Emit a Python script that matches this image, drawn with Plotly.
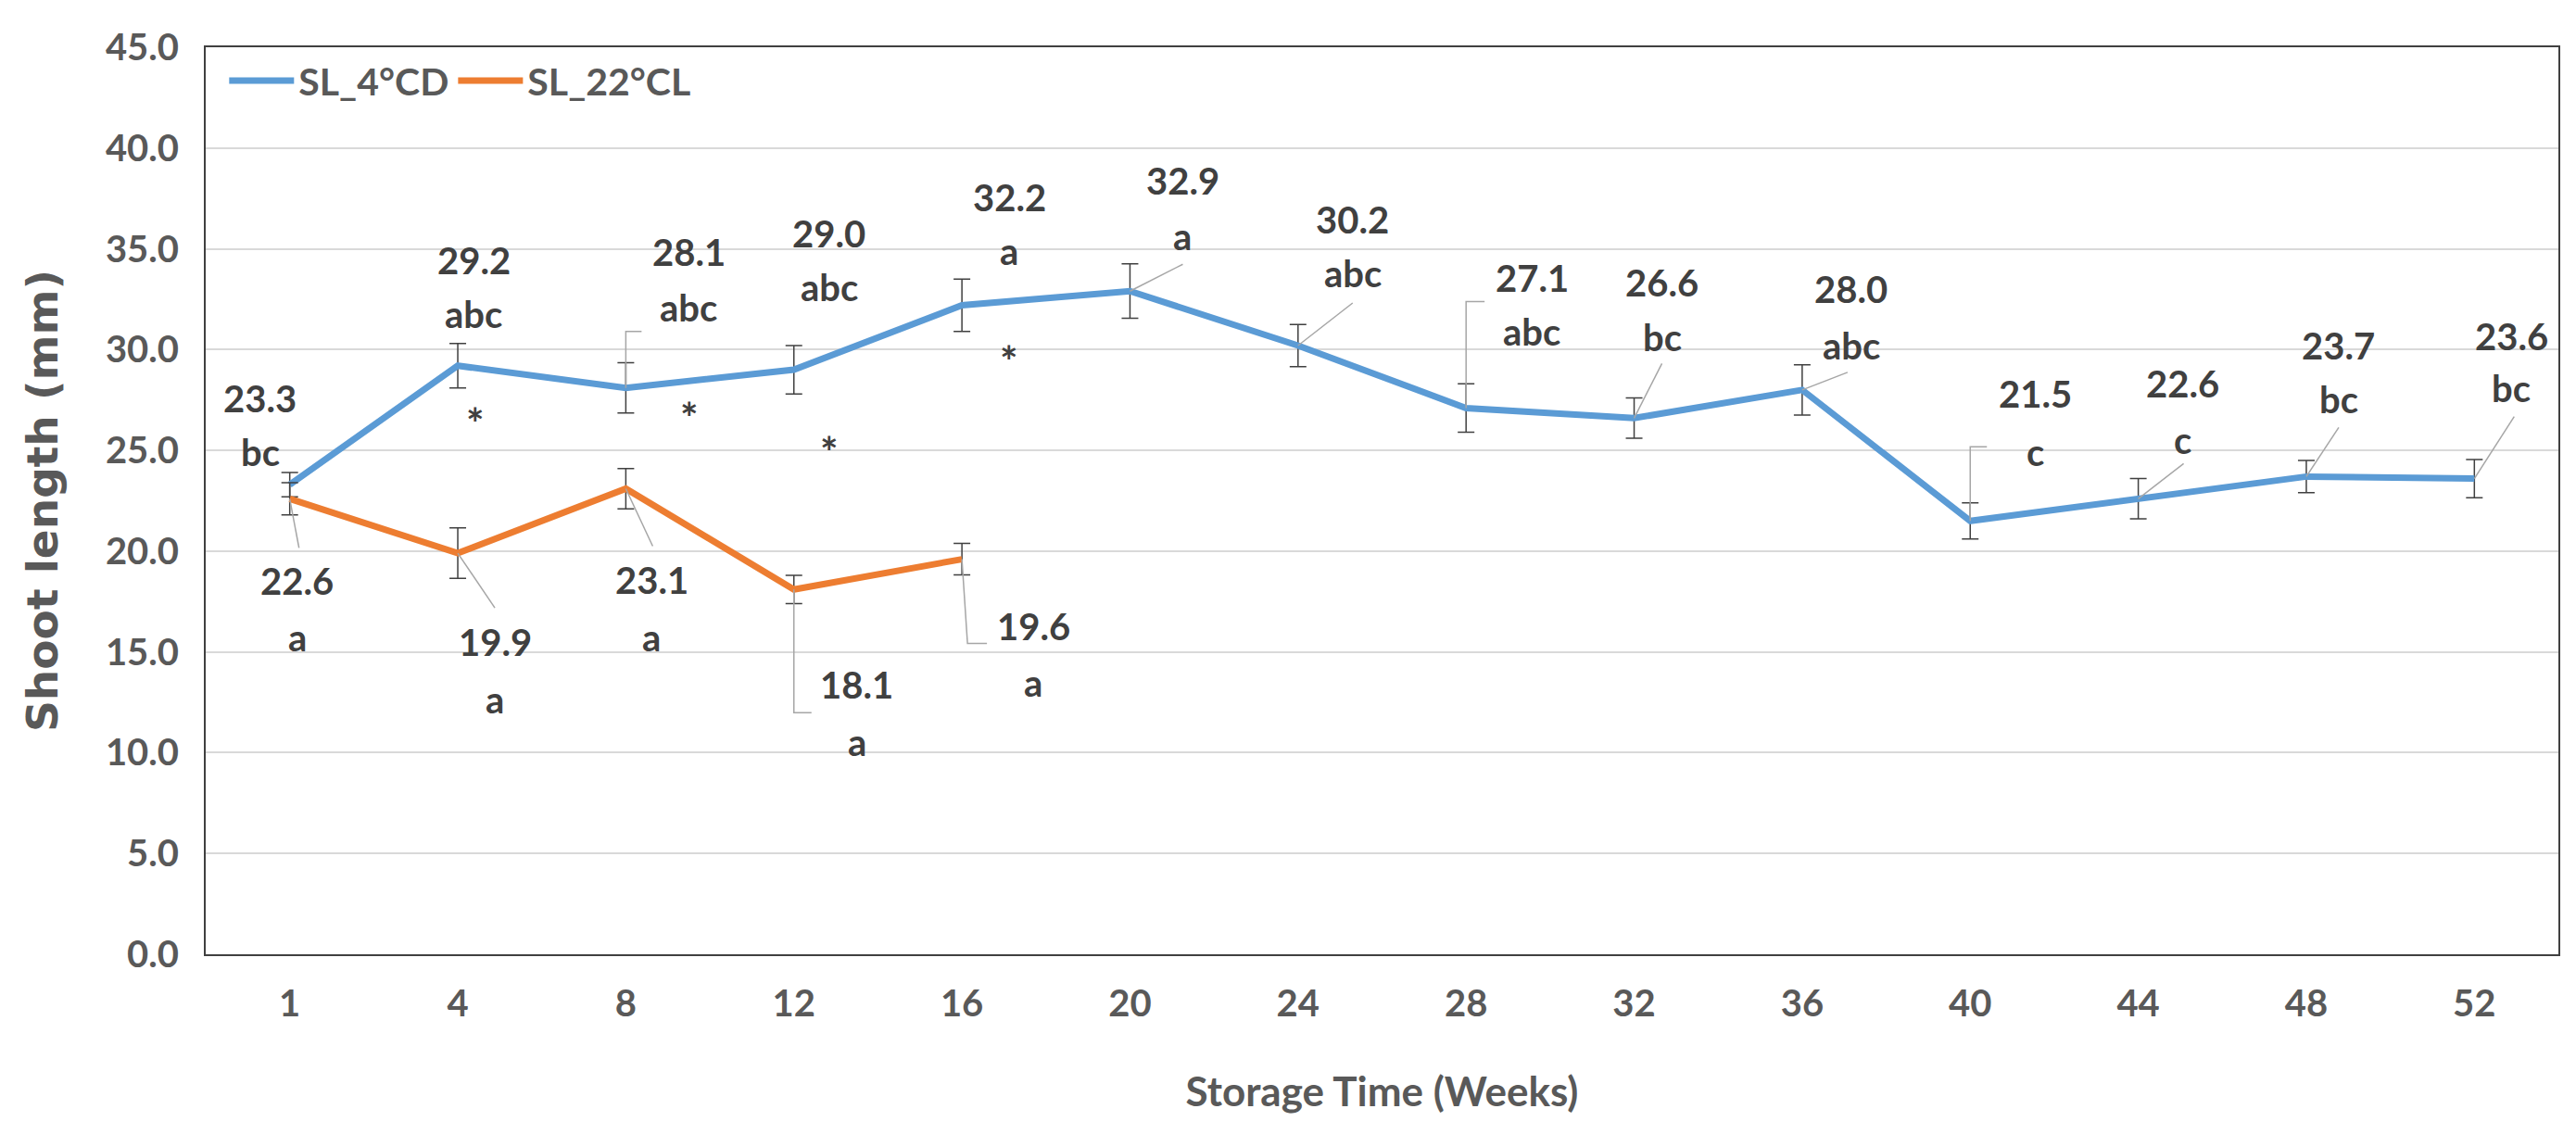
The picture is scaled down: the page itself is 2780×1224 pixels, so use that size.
import plotly.graph_objects as go

# ---------------- data ----------------
weeks = ["1", "4", "8", "12", "16", "20", "24", "28", "32", "36", "40", "44", "48", "52"]
sl_4cd = [23.3, 29.2, 28.1, 29.0, 32.2, 32.9, 30.2, 27.1, 26.6, 28.0, 21.5, 22.6, 23.7, 23.6]
sl_4cd_err = [0.6, 1.1, 1.25, 1.2, 1.3, 1.35, 1.05, 1.2, 1.0, 1.25, 0.9, 1.0, 0.8, 0.95]
sl_4cd_letters = ["bc", "abc", "abc", "abc", "a", "a", "abc", "abc", "bc", "abc", "c", "c", "bc", "bc"]

weeks_22 = ["1", "4", "8", "12", "16"]
sl_22cl = [22.6, 19.9, 23.1, 18.1, 19.6]
sl_22cl_err = [0.8, 1.25, 1.0, 0.7, 0.78]
sl_22cl_letters = ["a", "a", "a", "a", "a"]

sig_weeks = ["4", "8", "12", "16"]
sig_marks = ["*", "*", "*", "*"]

# ---------------- label placement (pixel offsets, up = positive) ----------------
blue_lab_off = [(-32, 93, 35), (17, 114, 56), (68, 147, 87), (38, 147, 89), (51, 116, 58),
                (57, 119, 59), (59, 136, 78), (71, 140, 82), (30, 146, 87), (53, 109, 48),
                (70, 137, 74), (48, 124, 63), (35, 141, 83), (40, 154, 98)]
orange_lab_off = [(8, -89, -150), (40, -96, -158), (28, -99, -161), (68, -103, -165), (77, -72, -133)]
blue_leaders = [None, None, [(0, 0), (0, 61), (17, 61)], None, None,
                [(0, 0), (57, 29)], [(0, 0), (59, 46)], [(0, 0), (0, 115), (20, 115)],
                [(0, 0), (30, 59)], [(0, 0), (49, 19)], [(0, 0), (0, 80), (18, 80)],
                [(0, 0), (49, 38)], [(0, 0), (35, 53)], [(0, 0), (43, 67)]]
orange_leaders = [[(0, 0), (10, -53)], [(0, 0), (40, -59)], [(0, 0), (29, -62)],
                  [(0, 0), (0, -133), (19, -133)], [(0, 0), (6, -91), (27, -91)]]
sig_off = [(19, -62), (69, -32), (38, -88), (51, -60)]

BLUE = "#5B9BD5"
ORANGE = "#ED7D31"
TXT = "#404040"
AX = "#595959"
FONT = "Lato, Open Sans, sans-serif"

fig = go.Figure()
fig.add_trace(go.Scatter(
    x=weeks, y=sl_4cd, mode="lines", name="SL_4°CD",
    line=dict(color=BLUE, width=7),
    error_y=dict(type="data", array=sl_4cd_err, color=TXT, thickness=1.5, width=9),
))
fig.add_trace(go.Scatter(
    x=weeks_22, y=sl_22cl, mode="lines", name="SL_22°CL",
    line=dict(color=ORANGE, width=7),
    error_y=dict(type="data", array=sl_22cl_err, color=TXT, thickness=1.5, width=9),
))

annotations = []
shapes = []
lab_font = dict(family=FONT, size=40, color=TXT, weight="bold")
sig_font = dict(family=FONT, size=46, color=TXT, weight="bold")


def add_labels(xs, ys, letters, offs, leaders):
    for x, y, let, (dx, d1, d2), lead in zip(xs, ys, letters, offs, leaders):
        xi = weeks.index(x)  # category index on the x axis
        annotations.append(dict(x=xi, y=y, xref="x", yref="y", text=f"{y:.1f}", showarrow=False,
                                xshift=dx, yshift=d1, font=lab_font))
        annotations.append(dict(x=xi, y=y, xref="x", yref="y", text=let, showarrow=False,
                                xshift=dx, yshift=d2, font=lab_font))
        if lead:
            path = "M " + " L ".join(f"{px},{py}" for px, py in lead)
            shapes.append(dict(type="path", path=path, xref="x", yref="y",
                               xsizemode="pixel", ysizemode="pixel", xanchor=xi, yanchor=y,
                               line=dict(color="#a6a6a6", width=1.5), layer="above"))


add_labels(weeks, sl_4cd, sl_4cd_letters, blue_lab_off, blue_leaders)
add_labels(weeks_22, sl_22cl, sl_22cl_letters, orange_lab_off, orange_leaders)

for w, m, (dx, dy) in zip(sig_weeks, sig_marks, sig_off):
    xi = weeks.index(w)
    y = sl_4cd[xi]
    annotations.append(dict(x=xi, y=y, xref="x", yref="y", text=m, showarrow=False,
                            xshift=dx, yshift=dy, font=sig_font))

fig.update_layout(
    width=2780, height=1224,
    margin=dict(l=214, r=27, t=43, b=202),
    paper_bgcolor="white", plot_bgcolor="white",
    showlegend=True,
    legend=dict(orientation="h", x=0.008, y=0.997, xanchor="left", yanchor="top",
                bgcolor="rgba(0,0,0,0)", font=dict(family=FONT, size=41, color=AX, weight="bold"),
                itemwidth=70),
    annotations=annotations,
    shapes=shapes,
    xaxis=dict(
        type="category", categoryorder="array", categoryarray=weeks,
        range=[-0.5, len(weeks) - 0.5],
        showline=True, mirror=True, linecolor="#404040", linewidth=2,
        showgrid=False, ticks="", ticklen=0, ticklabelstandoff=17,
        tickfont=dict(family=FONT, size=40, color=AX, weight="bold"),
        title=dict(text="Storage Time (Weeks)", standoff=58,
                   font=dict(family=FONT, size=44, color=AX, weight="bold")),
    ),
    yaxis=dict(
        range=[0, 45], dtick=5, tickformat=".1f",
        showline=True, mirror=True, linecolor="#404040", linewidth=2,
        showgrid=True, gridcolor="#d9d9d9", gridwidth=2, zeroline=False,
        ticks="", ticklen=0, ticklabelstandoff=19,
        tickfont=dict(family=FONT, size=40, color=AX, weight="bold"),
        title=dict(text="Shoot length (mm)", standoff=36,
                   font=dict(family="DejaVu Sans, sans-serif", size=47, color=AX, weight="bold")),
    ),
)

fig.write_html("out.html")
